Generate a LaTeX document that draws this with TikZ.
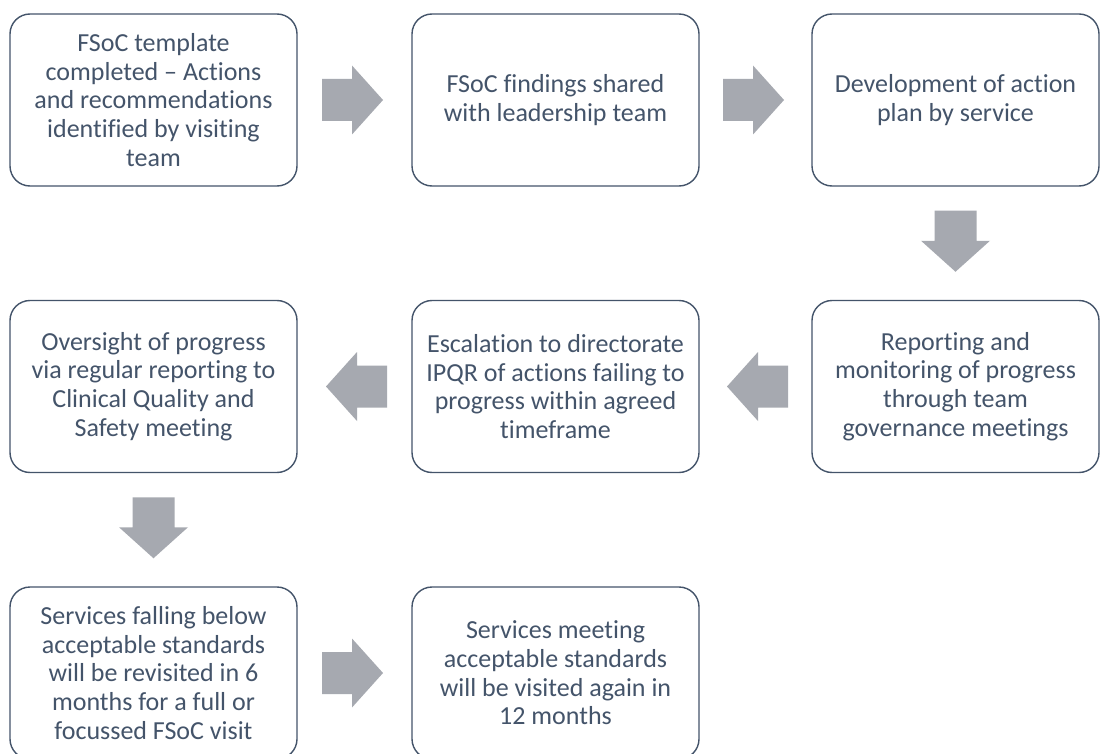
\documentclass[tikz,border=0pt]{standalone}
\usepackage{fontspec}
\setmainfont[Ligatures={NoCommon,NoRequired,NoContextual}]{Carlito}
\usetikzlibrary{calc}
\definecolor{slate}{HTML}{44546A}
\definecolor{arrowgrey}{HTML}{A6A9B0}
\tikzset{
  stepbox/.style={draw=slate, line width=1.4pt, rounded corners=20pt,
    minimum width=287pt, minimum height=172pt, align=center,
    text=slate, inner sep=4pt,
    font=\fontsize{26}{28.6}\selectfont},
  barrow/.pic={
    \fill[arrowgrey] (-32.5,-21) -- (-2.5,-21) -- (-2.5,-34.5) -- (28.5,0)
      -- (-2.5,34.5) -- (-2.5,21) -- (-32.5,21) -- cycle;
  }
}
\begin{document}
\begin{tikzpicture}[x=1pt,y=-1pt]
\useasboundingbox (0,0) rectangle (1100,754);
\fill[white] (0,0) rectangle (1100,754);

% top row
\node[stepbox] (b1) at (153.5,100) {FSoC template\\completed – Actions\\and recommendations\\identified by visiting\\team};
\node[stepbox] (b2) at (555.5,100) {FSoC findings shared\\with leadership team};
\node[stepbox] (b3) at (955.5,100) {Development of action\\plan by service};

% middle row
\node[stepbox] (b6) at (955.5,386.5) {Reporting and\\monitoring of progress\\through team\\governance meetings};
\node[stepbox] (b5) at (555.5,386.5) {Escalation to directorate\\IPQR of actions failing to\\progress within agreed\\timeframe};
\node[stepbox] (b4) at (153.5,386.5) {Oversight of progress\\via regular reporting to\\Clinical Quality and\\Safety meeting};

% bottom row
\node[stepbox] (b7) at (153.5,673) {Services falling below\\acceptable standards\\will be revisited in 6\\months for a full or\\focussed FSoC visit};
\node[stepbox] (b8) at (555.5,673) {Services meeting\\acceptable standards\\will be visited again in\\12 months};

% block arrows between the steps
\pic at ($(b1.east)!0.5!(b2.west)$) {barrow};
\pic at ($(b2.east)!0.5!(b3.west)$) {barrow};
\pic[rotate=-90] at ($(b3.south)!0.5!(b6.north)$) {barrow};
\pic[rotate=180] at ($(b6.west)!0.5!(b5.east)$) {barrow};
\pic[rotate=180] at ($(b5.west)!0.5!(b4.east)$) {barrow};
\pic[rotate=-90] at ($(b4.south)!0.5!(b7.north)$) {barrow};
\pic at ($(b7.east)!0.5!(b8.west)$) {barrow};
\end{tikzpicture}
\end{document}
